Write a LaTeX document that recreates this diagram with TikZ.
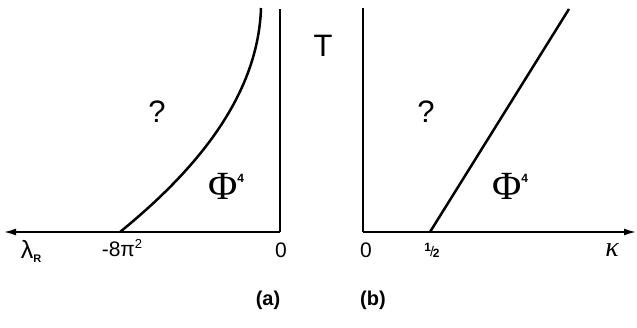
\documentclass[tikz,border=0pt]{standalone}
\usepackage{fontspec}
\setmainfont{Liberation Sans}
\newfontfamily\grk{Liberation Serif}
\usetikzlibrary{arrows.meta}
\begin{document}
\begin{tikzpicture}[x=1pt,y=-1pt,
  axis/.style={line width=1.7pt},
  curve/.style={line width=2.5pt},
  lbl/.style={inner sep=0pt,font=\fontsize{21}{21}\selectfont},
  big/.style={inner sep=0pt,font=\fontsize{31}{31}\selectfont},
  tip/.style={-{Latex[length=12pt,width=7pt]}}]
\useasboundingbox (0,0) rectangle (637,327);
% left panel
\coordinate (aO) at (280,232);
\coordinate (aTop) at (280,9);
\coordinate (aEnd) at (4,232);
\coordinate (aS) at (120,232);
\coordinate (aC) at (261,8);
\draw[axis] (aTop) -- (aO);
\draw[axis,tip] (aO) -- (aEnd);
\draw[curve] (aS) .. controls (190,175) and (258,100) .. (aC);
% right panel
\coordinate (bO) at (363,232);
\coordinate (bTop) at (363,8);
\coordinate (bEnd) at (636,232);
\coordinate (bS) at (430,232);
\coordinate (bC) at (569,9);
\draw[axis] (bTop) -- (bO);
\draw[axis,tip] (bO) -- (bEnd);
\draw[curve] (bS) -- (bC);
% labels
\node[big] (T) at (323,46) {T};
\node[big] (qa) at (157,112) {?};
\node[big] (qb) at (426,112) {?};
\node[inner sep=0pt] (pa) at (226,186) {{\grk\fontsize{40}{40}\selectfont Φ}\raisebox{17pt}{\fontsize{12}{12}\selectfont\bfseries 4}};
\node[inner sep=0pt] (pb) at (510,186) {{\grk\fontsize{40}{40}\selectfont Φ}\raisebox{17pt}{\fontsize{12}{12}\selectfont\bfseries 4}};
\node[lbl] (lam) at (31,251) {\fontsize{25}{25}\selectfont λ\raisebox{-4pt}{\fontsize{11}{11}\selectfont\bfseries R}};
\node[lbl] (m8) at (122,248) {-8π\raisebox{8pt}{\fontsize{13}{13}\selectfont 2}};
\node[lbl] (za) at (281,250) {0};
\node[lbl] (zb) at (366,250) {0};
\node[lbl] (half) at (432,250) {\raisebox{5pt}{\fontsize{12}{12}\selectfont\bfseries 1}\kern-1pt{\fontsize{14}{14}\selectfont/}\kern-1pt\raisebox{-1pt}{\fontsize{12}{12}\selectfont\bfseries 2}};
\node[lbl] (kap) at (612,250) {\grk\itshape\fontsize{28}{28}\selectfont κ};
\node[lbl,font=\fontsize{20}{20}\selectfont\bfseries] (la) at (268,300) {(a)};
\node[lbl,font=\fontsize{20}{20}\selectfont\bfseries] (lb) at (373,300) {(b)};
\end{tikzpicture}
\end{document}
